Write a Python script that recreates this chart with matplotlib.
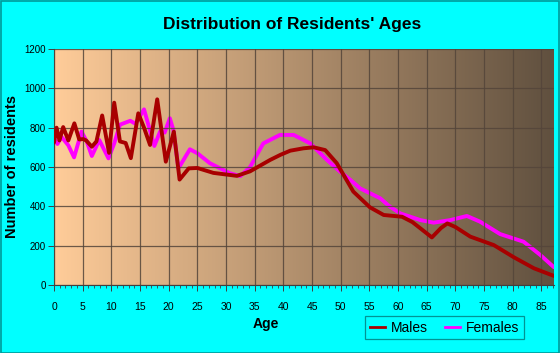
import numpy as np
import matplotlib
matplotlib.use("Agg")
import matplotlib.pyplot as plt
from matplotlib.patches import Rectangle
from matplotlib.lines import Line2D

# ---- data ----
male_age = [0.0, 0.45, 0.95, 1.6, 2.5, 3.55, 4.4, 5.1, 5.6, 6.6, 7.4, 8.4, 9.6, 10.5,
            11.5, 12.5, 13.4, 14.7, 15.7, 16.75, 18.0, 19.5, 20.9, 21.9, 23.5, 25.0,
            27.8, 31.9, 34.2, 37.7, 39.5, 41.2, 43.5, 45.3, 47.3, 49.3, 50.5, 52.2,
            55.1, 57.5, 60.7, 62.5, 63.9, 65.9, 67.5, 68.6, 70.0, 72.6, 76.7, 80.2,
            83.7, 87.2]
male_val = [725, 800, 735, 803, 735, 822, 740, 742, 735, 703, 730, 862, 672, 927,
            730, 722, 645, 873, 800, 712, 944, 627, 780, 536, 593, 595,
            570, 555, 578, 636, 662, 683, 695, 700, 686, 620, 560, 475,
            395, 356, 347, 320, 288, 242, 290, 313, 295, 246, 203, 141,
            85, 46]

female_age = [0.0, 0.6, 1.3, 2.5, 3.5, 4.8, 5.7, 6.6, 7.9, 9.5, 10.5, 11.5, 13.3, 14.2,
              15.7, 16.6, 17.5, 18.5, 19.3, 20.2, 20.8, 21.7, 23.7, 25.0, 27.2, 30.7,
              32.5, 34.2, 36.5, 39.4, 41.8, 44.7, 47.6, 49.9, 51.7, 53.4, 56.9, 58.5,
              60.4, 63.9, 66.2, 69.1, 72.0, 74.3, 77.8, 81.9, 84.8, 87.2]
female_val = [745, 717, 754, 710, 649, 780, 730, 656, 737, 644, 720, 815, 835, 820,
              893, 800, 707, 780, 775, 848, 790, 593, 690, 670, 619, 568,
              554, 600, 720, 763, 763, 720, 636, 576, 534, 491, 441, 400,
              364, 330, 317, 330, 351, 322, 259, 220, 153, 90]

x_ticks = list(range(0, 90, 5))
y_ticks = [0, 200, 400, 600, 800, 1000, 1200]

title = "Distribution of Residents' Ages"
xlabel = "Age"
ylabel = "Number of residents"
series_names = ["Males", "Females"]
male_color = "#A80000"
female_color = "#FF00FF"

# ---- figure ----
W, H = 560, 353
fig = plt.figure(figsize=(W / 100, H / 100), dpi=100)
fig.patch.set_facecolor("#00FFFF")
plt.rcParams["font.family"] = ["Liberation Sans", "DejaVu Sans"]

# frame around figure
fig.add_artist(Rectangle((0.5 / W, 0.5 / H), 1 - 1.5 / W, 1 - 1.5 / H,
                         transform=fig.transFigure, fill=False,
                         edgecolor="#009A9A", linewidth=1.2))

L, R, T, B = 54, 554, 49, 285
ax = fig.add_axes([L / W, 1 - B / H, (R - L) / W, (B - T) / H])

xmax = 87.2
ax.set_xlim(0, xmax)
ax.set_ylim(0, 1200)

# gradient background
c0 = np.array([255, 204, 153]) / 255.0
c1 = np.array([96, 80, 63]) / 255.0
t = np.linspace(0, 1, 256)
grad = (c0[None, :] * (1 - t[:, None]) + c1[None, :] * t[:, None])[None, :, :]
ax.imshow(grad, extent=[0, xmax, 0, 1200], aspect="auto", zorder=0,
          interpolation="bilinear")

ax.set_xticks(x_ticks)
ax.set_xticks(np.arange(0, 88, 1), minor=True)
ax.set_yticks(y_ticks)
ax.grid(True, which="major", color="#54453a", linewidth=0.9, alpha=0.85, zorder=1)
ax.set_axisbelow(False)

ax.plot(male_age, male_val, color=male_color, linewidth=2.8, zorder=3,
        solid_joinstyle="round", solid_capstyle="round", label=series_names[0])
ax.plot(female_age, female_val, color=female_color, linewidth=2.8, zorder=2,
        solid_joinstyle="round", solid_capstyle="round", label=series_names[1])

for s in ["top", "right"]:
    ax.spines[s].set_visible(False)
for s in ["left", "bottom"]:
    ax.spines[s].set_color("#404040")
    ax.spines[s].set_linewidth(0.8)

ax.tick_params(axis="both", which="major", labelsize=7, length=4, width=0.7,
               color="#404040", pad=2)
ax.tick_params(axis="x", which="minor", length=2.5, width=0.6, color="#404040")
ax.tick_params(axis="x", which="major", labelsize=7.5, pad=8)

fig.text(292 / W, 1 - 24 / H, title, ha="center", va="center",
         fontsize=12.5, fontweight="bold")
fig.text(266 / W, 1 - 324 / H, xlabel, ha="center", va="center",
         fontsize=10, fontweight="bold")
fig.text(12 / W, 1 - 167 / H, ylabel, ha="center", va="center", rotation=90,
         fontsize=10.5, fontweight="bold")

handles = [Line2D([], [], color=male_color, linewidth=2),
           Line2D([], [], color=female_color, linewidth=2)]
leg = fig.legend(handles, series_names, loc="center",
                 bbox_to_anchor=(444.5 / W, 1 - 327.5 / H), ncol=2,
                 fontsize=10, frameon=True, fancybox=False,
                 handlelength=1.1, handletextpad=0.4, columnspacing=1.2,
                 borderpad=0.35)
leg.get_frame().set_facecolor("none")
leg.get_frame().set_edgecolor("#007A7A")
leg.get_frame().set_linewidth(0.9)

fig.savefig("out.png", dpi=100, facecolor=fig.get_facecolor())
